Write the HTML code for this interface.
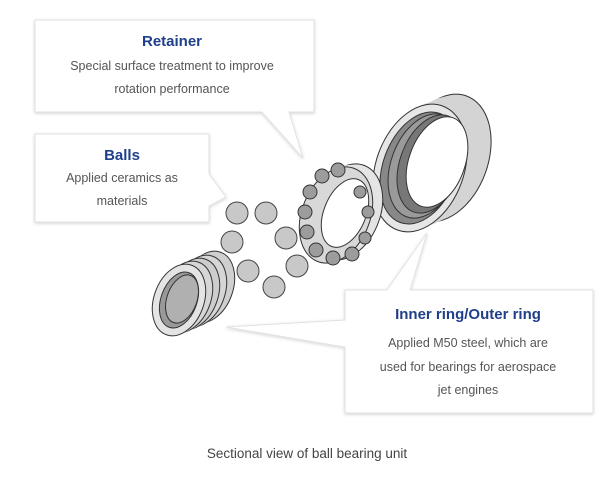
<!DOCTYPE html>
<html><head><meta charset="utf-8"><style>
body{margin:0;background:#fff;width:600px;height:491px;overflow:hidden;font-family:"Liberation Sans",sans-serif}
svg{position:absolute;left:0;top:0}
</style></head><body>
<svg width="600" height="491" viewBox="0 0 600 491">
<defs>
<filter id="sh" x="-10%" y="-10%" width="120%" height="130%"><feDropShadow dx="0" dy="1" stdDeviation="1.5" flood-color="#000" flood-opacity="0.18"/></filter>
</defs>
<path d="M35 20 H314 V112 H289 L303 158 L262 112 H35 Z" fill="#fff" stroke="#e2e2e2" filter="url(#sh)"/>
<path d="M35 134 H209 V174 L226 197 L209 206 V222 H35 Z" fill="#fff" stroke="#e2e2e2" filter="url(#sh)"/>
<path d="M345 290 H387 L427 233 L410 290 H593 V413 H345 V347 L226 327 L345 320 Z" fill="#fff" stroke="#e2e2e2" filter="url(#sh)"/>
<g font-family="Liberation Sans,sans-serif" text-anchor="middle">
<text x="172" y="46" font-size="15" font-weight="bold" fill="#1f3f8a">Retainer</text>
<text x="172" y="70" font-size="12.5" fill="#555">Special surface treatment to improve</text>
<text x="172" y="93" font-size="12.5" fill="#555">rotation performance</text>
<text x="122" y="160" font-size="15" font-weight="bold" fill="#1f3f8a">Balls</text>
<text x="122" y="182" font-size="12.5" fill="#555">Applied ceramics as</text>
<text x="122" y="205" font-size="12.5" fill="#555">materials</text>
<text x="468" y="319" font-size="15" font-weight="bold" fill="#1f3f8a">Inner ring/Outer ring</text>
<text x="468" y="347" font-size="12.5" fill="#555">Applied M50 steel, which are</text>
<text x="468" y="371" font-size="12.5" fill="#555">used for bearings for aerospace</text>
<text x="468" y="394" font-size="12.5" fill="#555">jet engines</text>
<text x="307" y="458" font-size="13.5" fill="#444">Sectional view of ball bearing unit</text>
</g>
<!-- outer ring -->
<g stroke="#333" stroke-width="1">
<ellipse cx="444" cy="158" rx="44" ry="66" transform="rotate(20 444 158)" fill="#d4d4d4"/>
<g fill="#d4d4d4" stroke="none">
<ellipse cx="438" cy="160" rx="44" ry="66" transform="rotate(20 438 160)"/>
<ellipse cx="432" cy="163" rx="44" ry="66" transform="rotate(20 432 163)"/>
<ellipse cx="426" cy="165" rx="44" ry="66" transform="rotate(20 426 165)"/>
</g>
<ellipse cx="420" cy="168" rx="44" ry="66" transform="rotate(20 420 168)" fill="#e6e6e6"/>
<ellipse cx="420" cy="168" rx="37" ry="58" transform="rotate(20 420 168)" fill="#888"/>
<ellipse cx="425" cy="166" rx="34" ry="54" transform="rotate(20 425 166)" fill="#9a9a9a"/>
<ellipse cx="431" cy="164" rx="31" ry="51" transform="rotate(20 431 164)" fill="#777"/>
<ellipse cx="437" cy="162" rx="28" ry="47" transform="rotate(20 437 162)" fill="#fff"/>
</g>
<!-- retainer -->
<g stroke="#333" stroke-width="1">
<ellipse cx="346" cy="212" rx="34" ry="50" transform="rotate(22 346 212)" fill="#e4e4e4"/>
<ellipse cx="341" cy="213" rx="34" ry="50" transform="rotate(22 341 213)" fill="#e4e4e4" stroke="none"/>
<ellipse cx="336" cy="215" rx="34" ry="50" transform="rotate(22 336 215)" fill="#d8d8d8"/>
<ellipse cx="345" cy="213" rx="21" ry="36" transform="rotate(22 345 213)" fill="#fff"/>
<g fill="#9c9c9c">
<circle cx="322" cy="176" r="7"/><circle cx="338" cy="170" r="7"/><circle cx="310" cy="192" r="7"/>
<circle cx="305" cy="212" r="7"/><circle cx="307" cy="232" r="7"/><circle cx="316" cy="250" r="7"/>
<circle cx="333" cy="258" r="7"/><circle cx="352" cy="254" r="7"/><circle cx="365" cy="238" r="6"/>
<circle cx="360" cy="192" r="6"/><circle cx="368" cy="212" r="6"/>
</g>
</g>
<!-- balls -->
<g fill="#c8c8c8" stroke="#444" stroke-width="1">
<circle cx="237" cy="213" r="11"/><circle cx="266" cy="213" r="11"/>
<circle cx="232" cy="242" r="11"/><circle cx="286" cy="238" r="11"/>
<circle cx="248" cy="271" r="11"/><circle cx="297" cy="266" r="11"/>
<circle cx="274" cy="287" r="11"/>
</g>
<!-- inner ring -->
<g stroke="#333" stroke-width="1">
<ellipse cx="208" cy="287" rx="25" ry="37" transform="rotate(20 208 287)" fill="#cfcfcf"/>
<ellipse cx="204" cy="289" rx="25" ry="37" transform="rotate(20 204 289)" fill="#cfcfcf" stroke="none"/>
<ellipse cx="200" cy="291" rx="25" ry="37" transform="rotate(20 200 291)" fill="#d6d6d6"/>
<ellipse cx="196" cy="293" rx="25" ry="37" transform="rotate(20 196 293)" fill="#d6d6d6" stroke="none"/>
<ellipse cx="193" cy="294" rx="25" ry="37" transform="rotate(20 193 294)" fill="#cdcdcd"/>
<ellipse cx="189" cy="296" rx="25" ry="37" transform="rotate(20 189 296)" fill="#cdcdcd" stroke="none"/>
<ellipse cx="186" cy="297" rx="25" ry="37" transform="rotate(20 186 297)" fill="#d6d6d6"/>
<ellipse cx="182" cy="299" rx="25" ry="37" transform="rotate(20 182 299)" fill="#d6d6d6" stroke="none"/>
<ellipse cx="179" cy="300" rx="25" ry="37" transform="rotate(20 179 300)" fill="#e4e4e4"/>
<ellipse cx="179" cy="300" rx="18" ry="29" transform="rotate(20 179 300)" fill="#999"/>
<ellipse cx="182" cy="299" rx="15" ry="25" transform="rotate(20 182 299)" fill="#b0b0b0"/>
</g>
</svg>
</body></html>
